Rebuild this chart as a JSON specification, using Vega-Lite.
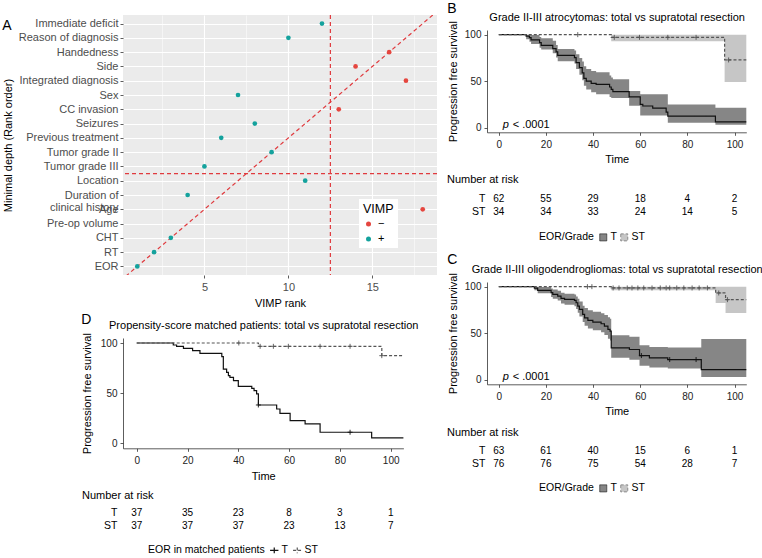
{
  "$schema": "https://vega.github.io/schema/vega-lite/v6.json",
  "background": "white",
  "padding": {"left": 2, "top": 2, "right": 2, "bottom": 0},
  "config": {
    "font": "Liberation Sans",
    "view": {"stroke": null},
    "axis": {"titleFontWeight": "normal", "labelOverlap": false},
    "title": {"fontWeight": "normal", "color": "#000000"},
    "legend": {"titleFontWeight": "normal"}
  },
  "datasets": {
    "vimp": [
      {"var": "Immediate deficit", "depth": 18, "rank": 12, "sign": "+"},
      {"var": "Reason of diagnosis", "depth": 17, "rank": 10, "sign": "+"},
      {"var": "Handedness", "depth": 16, "rank": 16, "sign": "−"},
      {"var": "Side", "depth": 15, "rank": 14, "sign": "−"},
      {"var": "Integrated diagnosis", "depth": 14, "rank": 17, "sign": "−"},
      {"var": "Sex", "depth": 13, "rank": 7, "sign": "+"},
      {"var": "CC invasion", "depth": 12, "rank": 13, "sign": "−"},
      {"var": "Seizures", "depth": 11, "rank": 8, "sign": "+"},
      {"var": "Previous treatment", "depth": 10, "rank": 6, "sign": "+"},
      {"var": "Tumor grade II", "depth": 9, "rank": 9, "sign": "+"},
      {"var": "Tumor grade III", "depth": 8, "rank": 5, "sign": "+"},
      {"var": "Location", "depth": 7, "rank": 11, "sign": "+"},
      {"var": "Duration of clinical history", "depth": 6, "rank": 4, "sign": "+"},
      {"var": "Age", "depth": 5, "rank": 18, "sign": "−"},
      {"var": "Pre-op volume", "depth": 4, "rank": 15, "sign": "−"},
      {"var": "CHT", "depth": 3, "rank": 3, "sign": "+"},
      {"var": "RT", "depth": 2, "rank": 2, "sign": "+"},
      {"var": "EOR", "depth": 1, "rank": 1, "sign": "+"}
    ],
    "kmB": [
      {"g": "T", "t": 0, "S": 100, "lo": 100, "hi": 100},
      {"g": "T", "t": 11.6, "S": 98.4, "lo": 95, "hi": 100},
      {"g": "T", "t": 13, "S": 96.8, "lo": 92.5, "hi": 100},
      {"g": "T", "t": 13.7, "S": 94.3, "lo": 90, "hi": 99.5},
      {"g": "T", "t": 17.3, "S": 91.4, "lo": 86, "hi": 97.5},
      {"g": "T", "t": 18, "S": 88.5, "lo": 84, "hi": 96},
      {"g": "T", "t": 22.9, "S": 85, "lo": 80, "hi": 93.5},
      {"g": "T", "t": 24.3, "S": 81.4, "lo": 75.5, "hi": 89},
      {"g": "T", "t": 25, "S": 77.8, "lo": 71.5, "hi": 84.5},
      {"g": "T", "t": 32.1, "S": 75.3, "lo": 69, "hi": 83},
      {"g": "T", "t": 32.8, "S": 70, "lo": 63, "hi": 79},
      {"g": "T", "t": 34.2, "S": 64.5, "lo": 57, "hi": 75},
      {"g": "T", "t": 35.4, "S": 59, "lo": 51, "hi": 71},
      {"g": "T", "t": 36.1, "S": 53, "lo": 45, "hi": 66},
      {"g": "T", "t": 37.1, "S": 50, "lo": 41, "hi": 63},
      {"g": "T", "t": 39.2, "S": 47.7, "lo": 38, "hi": 61},
      {"g": "T", "t": 41.3, "S": 46.6, "lo": 36, "hi": 59.5},
      {"g": "T", "t": 47, "S": 43.7, "lo": 33, "hi": 56},
      {"g": "T", "t": 47.7, "S": 41.2, "lo": 32, "hi": 54},
      {"g": "T", "t": 48.4, "S": 38.7, "lo": 32, "hi": 52},
      {"g": "T", "t": 55.3, "S": 33, "lo": 23.5, "hi": 39.5},
      {"g": "T", "t": 60, "S": 25, "lo": 13, "hi": 36},
      {"g": "T", "t": 61.1, "S": 23.3, "lo": 13, "hi": 36},
      {"g": "T", "t": 65.3, "S": 21, "lo": 13, "hi": 36},
      {"g": "T", "t": 71, "S": 16.8, "lo": 13, "hi": 36},
      {"g": "T", "t": 71.7, "S": 12.5, "lo": 5.4, "hi": 25},
      {"g": "T", "t": 91.9, "S": 6.3, "lo": 3, "hi": 21.5},
      {"g": "T", "t": 105, "S": 6.3, "lo": 3, "hi": 21.5},
      {"g": "ST", "t": 0, "S": 100, "lo": 100, "hi": 100},
      {"g": "ST", "t": 47.7, "S": 97.1, "lo": 93, "hi": 100},
      {"g": "ST", "t": 95.8, "S": 72.8, "lo": 49, "hi": 100},
      {"g": "ST", "t": 105, "S": 72.8, "lo": 49, "hi": 100}
    ],
    "cenB": [
      {"g": "ST", "t": 33.5, "S": 100},
      {"g": "ST", "t": 49, "S": 97.1},
      {"g": "ST", "t": 59.7, "S": 97.1},
      {"g": "ST", "t": 71.7, "S": 97.1},
      {"g": "ST", "t": 83.7, "S": 97.1},
      {"g": "ST", "t": 97.5, "S": 72.8}
    ],
    "riskB": [
      {"g": "T", "t": 0, "n": 62}, {"g": "T", "t": 20, "n": 55}, {"g": "T", "t": 40, "n": 29},
      {"g": "T", "t": 60, "n": 18}, {"g": "T", "t": 80, "n": 4}, {"g": "T", "t": 100, "n": 2},
      {"g": "ST", "t": 0, "n": 34}, {"g": "ST", "t": 20, "n": 34}, {"g": "ST", "t": 40, "n": 33},
      {"g": "ST", "t": 60, "n": 24}, {"g": "ST", "t": 80, "n": 14}, {"g": "ST", "t": 100, "n": 5}
    ],
    "kmC": [
      {"g": "T", "t": 0, "S": 100, "lo": 100, "hi": 100},
      {"g": "T", "t": 15.1, "S": 98.5, "lo": 96, "hi": 100},
      {"g": "T", "t": 16.5, "S": 96, "lo": 93, "hi": 99.5},
      {"g": "T", "t": 22.2, "S": 93.5, "lo": 89, "hi": 98},
      {"g": "T", "t": 22.9, "S": 91.7, "lo": 87, "hi": 97},
      {"g": "T", "t": 25, "S": 89.9, "lo": 85, "hi": 95.5},
      {"g": "T", "t": 26.4, "S": 87.4, "lo": 82, "hi": 93.5},
      {"g": "T", "t": 27.9, "S": 86.3, "lo": 80.5, "hi": 92.5},
      {"g": "T", "t": 32.1, "S": 85.3, "lo": 79, "hi": 91.5},
      {"g": "T", "t": 32.8, "S": 82.7, "lo": 76, "hi": 89.5},
      {"g": "T", "t": 33.5, "S": 79.1, "lo": 72, "hi": 87},
      {"g": "T", "t": 34.2, "S": 75.5, "lo": 68, "hi": 84},
      {"g": "T", "t": 35.6, "S": 70.1, "lo": 62, "hi": 79.5},
      {"g": "T", "t": 36.4, "S": 66.5, "lo": 58, "hi": 77},
      {"g": "T", "t": 37.8, "S": 63.7, "lo": 55, "hi": 74.5},
      {"g": "T", "t": 39.9, "S": 61.9, "lo": 53, "hi": 73},
      {"g": "T", "t": 43.4, "S": 60.1, "lo": 51, "hi": 71.5},
      {"g": "T", "t": 44.8, "S": 57.6, "lo": 48, "hi": 69.5},
      {"g": "T", "t": 46.3, "S": 54, "lo": 44, "hi": 67},
      {"g": "T", "t": 47.2, "S": 52.2, "lo": 42, "hi": 65.5},
      {"g": "T", "t": 47.7, "S": 34.2, "lo": 23.5, "hi": 47.8},
      {"g": "T", "t": 55.4, "S": 32.4, "lo": 21.5, "hi": 46},
      {"g": "T", "t": 59.7, "S": 25.9, "lo": 15, "hi": 37},
      {"g": "T", "t": 63.9, "S": 23.4, "lo": 13, "hi": 35},
      {"g": "T", "t": 71.7, "S": 21.6, "lo": 12, "hi": 34.5},
      {"g": "T", "t": 85.9, "S": 10.8, "lo": 2.9, "hi": 43.7},
      {"g": "T", "t": 105, "S": 10.8, "lo": 2.9, "hi": 43.7},
      {"g": "ST", "t": 0, "S": 100, "lo": 100, "hi": 100},
      {"g": "ST", "t": 47.7, "S": 98.6, "lo": 96, "hi": 100},
      {"g": "ST", "t": 92, "S": 93.2, "lo": 82.4, "hi": 100},
      {"g": "ST", "t": 96.2, "S": 86, "lo": 71.7, "hi": 100},
      {"g": "ST", "t": 105, "S": 86, "lo": 71.7, "hi": 100}
    ],
    "cenC": [
      {"g": "ST", "t": 37.6, "S": 100}, {"g": "ST", "t": 39.5, "S": 100},
      {"g": "ST", "t": 48.5, "S": 98.6}, {"g": "ST", "t": 51, "S": 98.6}, {"g": "ST", "t": 54.5, "S": 98.6},
      {"g": "ST", "t": 56.5, "S": 98.6}, {"g": "ST", "t": 59, "S": 98.6}, {"g": "ST", "t": 61.5, "S": 98.6},
      {"g": "ST", "t": 65, "S": 98.6}, {"g": "ST", "t": 68.5, "S": 98.6}, {"g": "ST", "t": 71, "S": 98.6},
      {"g": "ST", "t": 72.5, "S": 98.6}, {"g": "ST", "t": 75.5, "S": 98.6}, {"g": "ST", "t": 78.5, "S": 98.6},
      {"g": "ST", "t": 82, "S": 98.6}, {"g": "ST", "t": 85, "S": 98.6}, {"g": "ST", "t": 88.5, "S": 98.6},
      {"g": "ST", "t": 93.3, "S": 93.2}, {"g": "ST", "t": 97, "S": 86},
      {"g": "T", "t": 60.5, "S": 25.9}, {"g": "T", "t": 72.5, "S": 21.6}, {"g": "T", "t": 83.7, "S": 21.6}
    ],
    "riskC": [
      {"g": "T", "t": 0, "n": 63}, {"g": "T", "t": 20, "n": 61}, {"g": "T", "t": 40, "n": 40},
      {"g": "T", "t": 60, "n": 15}, {"g": "T", "t": 80, "n": 6}, {"g": "T", "t": 100, "n": 1},
      {"g": "ST", "t": 0, "n": 76}, {"g": "ST", "t": 20, "n": 76}, {"g": "ST", "t": 40, "n": 75},
      {"g": "ST", "t": 60, "n": 54}, {"g": "ST", "t": 80, "n": 28}, {"g": "ST", "t": 100, "n": 7}
    ],
    "kmD": [
      {"g": "T", "t": 0, "S": 100}, {"g": "T", "t": 14.4, "S": 98}, {"g": "T", "t": 15.7, "S": 96.7},
      {"g": "T", "t": 18.4, "S": 94.7}, {"g": "T", "t": 22, "S": 92.4}, {"g": "T", "t": 24.9, "S": 89.7},
      {"g": "T", "t": 33.5, "S": 86.4}, {"g": "T", "t": 34.1, "S": 74}, {"g": "T", "t": 35.4, "S": 70.8},
      {"g": "T", "t": 36.1, "S": 67.4}, {"g": "T", "t": 36.7, "S": 65.8}, {"g": "T", "t": 38.1, "S": 62.5},
      {"g": "T", "t": 40, "S": 56.8}, {"g": "T", "t": 45.3, "S": 54.8}, {"g": "T", "t": 46.2, "S": 52.5},
      {"g": "T", "t": 47.2, "S": 49.2}, {"g": "T", "t": 47.9, "S": 38.2}, {"g": "T", "t": 55.1, "S": 34.2},
      {"g": "T", "t": 56.4, "S": 29.9}, {"g": "T", "t": 60.4, "S": 22.6}, {"g": "T", "t": 66.3, "S": 19.3},
      {"g": "T", "t": 72.2, "S": 11}, {"g": "T", "t": 92.5, "S": 5.3}, {"g": "T", "t": 105, "S": 5.3},
      {"g": "ST", "t": 0, "S": 100}, {"g": "ST", "t": 47.9, "S": 96.7}, {"g": "ST", "t": 96.5, "S": 87.4},
      {"g": "ST", "t": 105, "S": 87.4}
    ],
    "cenD": [
      {"g": "T", "t": 47.9, "S": 38.2}, {"g": "T", "t": 84, "S": 11},
      {"g": "ST", "t": 40.2, "S": 100}, {"g": "ST", "t": 48.6, "S": 96.7}, {"g": "ST", "t": 53.8, "S": 96.7},
      {"g": "ST", "t": 59.7, "S": 96.7}, {"g": "ST", "t": 72.2, "S": 96.7}, {"g": "ST", "t": 84, "S": 96.7},
      {"g": "ST", "t": 96.5, "S": 87.4}
    ],
    "riskD": [
      {"g": "T", "t": 0, "n": 37}, {"g": "T", "t": 20, "n": 35}, {"g": "T", "t": 40, "n": 23},
      {"g": "T", "t": 60, "n": 8}, {"g": "T", "t": 80, "n": 3}, {"g": "T", "t": 100, "n": 1},
      {"g": "ST", "t": 0, "n": 37}, {"g": "ST", "t": 20, "n": 37}, {"g": "ST", "t": 40, "n": 37},
      {"g": "ST", "t": 60, "n": 23}, {"g": "ST", "t": 80, "n": 13}, {"g": "ST", "t": 100, "n": 7}
    ]
  },
  "spacing": 9,
  "resolve": {"scale": {"x": "independent", "y": "independent", "color": "independent", "fill": "independent", "stroke": "independent", "strokeDash": "independent"}},
  "hconcat": [
    {
      "bounds": "flush",
      "spacing": 63,
      "resolve": {"scale": {"x": "independent", "y": "independent", "color": "independent", "fill": "independent", "stroke": "independent", "strokeDash": "independent"}},
      "vconcat": [
        {
          "width": 314,
          "height": 260,
          "view": {"fill": "#EBEBEB", "stroke": null},
          "title": {"text": "A", "anchor": "start", "frame": "bounds", "fontSize": 14, "dy": 19, "offset": 0},
          "resolve": {"scale": {"y": "independent"}, "axis": {"y": "independent"}},
          "layer": [
            {
              "data": {"values": [{"v": 12.5}]},
              "mark": {"type": "rule", "color": "#E03A3E", "strokeDash": [4, 3], "strokeWidth": 1.2},
              "encoding": {
                "x": {"field": "v", "type": "quantitative", "title": "VIMP rank", "scale": {"domain": [0.15, 18.85], "nice": false, "zero": false}}
              }
            },
            {
              "data": {"values": [{"v": 7.5}]},
              "mark": {"type": "rule", "color": "#E03A3E", "strokeDash": [4, 3], "strokeWidth": 1.2},
              "encoding": {
                "y": {"field": "v", "type": "quantitative", "axis": null, "scale": {"domain": [0.4, 18.6], "nice": false, "zero": false}}
              }
            },
            {
              "data": {"values": [{"a": 0, "b": 0}, {"a": 19, "b": 19}]},
              "mark": {"type": "line", "clip": true, "color": "#E03A3E", "strokeDash": [4, 3], "strokeWidth": 1.2},
              "encoding": {
                "x": {"field": "a", "type": "quantitative", "title": "VIMP rank", "scale": {"domain": [0.15, 18.85], "nice": false, "zero": false}},
                "y": {"field": "b", "type": "quantitative", "axis": null, "scale": {"domain": [0.4, 18.6], "nice": false, "zero": false}}
              }
            },
            {
              "data": {"name": "vimp"},
              "mark": {"type": "point", "filled": true, "size": 22, "opacity": 1},
              "encoding": {
                "x": {
                  "field": "rank", "type": "quantitative", "title": "VIMP rank",
                  "scale": {"domain": [0.15, 18.85], "nice": false, "zero": false},
                  "axis": {
                    "values": [2.5, 5, 7.5, 10, 12.5, 15, 17.5],
                    "labelExpr": "datum.value % 5 === 0 ? format(datum.value, 'd') : ''",
                    "grid": true, "gridColor": "#FFFFFF",
                    "gridWidth": {"condition": {"test": "datum.value % 5 === 0", "value": 1.1}, "value": 0.5},
                    "domain": false, "tickSize": 3, "tickColor": "#333333", "tickWidth": 0.8,
                    "tickOpacity": {"condition": {"test": "datum.value % 5 === 0", "value": 1}, "value": 0},
                    "labelColor": "#4D4D4D", "labelFontSize": 11, "labelPadding": 3, "labelFlush": false, "labelOverlap": false,
                    "titleFontSize": 11, "titleColor": "#000000", "titlePadding": 5
                  }
                },
                "y": {
                  "field": "var", "type": "nominal", "title": "Minimal depth (Rank order)",
                  "sort": ["Immediate deficit", "Reason of diagnosis", "Handedness", "Side", "Integrated diagnosis", "Sex", "CC invasion", "Seizures", "Previous treatment", "Tumor grade II", "Tumor grade III", "Location", "Duration of clinical history", "Age", "Pre-op volume", "CHT", "RT", "EOR"],
                  "scale": {"type": "point", "padding": 0.6},
                  "axis": {
                    "labelExpr": "datum.label === 'Duration of clinical history' ? ['Duration of', 'clinical history'] : datum.label",
                    "grid": true, "gridColor": "#FFFFFF", "gridWidth": 1.1,
                    "domain": false, "tickSize": 3, "tickColor": "#333333", "tickWidth": 0.8,
                    "labelColor": "#4D4D4D", "labelFontSize": 11, "labelPadding": 2, "labelLineHeight": 12.5,
                    "labelOverlap": false, "labelFlush": false, "labelBound": false, "labelLimit": 200,
                    "titleFontSize": 11, "titleColor": "#000000", "titlePadding": 5
                  }
                },
                "color": {
                  "field": "sign", "type": "nominal",
                  "scale": {"domain": ["−", "+"], "range": ["#E5463F", "#14A29D"]},
                  "legend": {
                    "title": "VIMP", "orient": "none", "legendX": 236, "legendY": 184,
                    "fillColor": "#FFFFFF", "padding": 4, "titleFontSize": 12.5, "titleColor": "#000000",
                    "labelFontSize": 11, "labelColor": "#000000", "symbolSize": 25, "symbolType": "circle",
                    "rowPadding": 3, "titlePadding": 3
                  }
                }
              }
            }
          ]
        },
        {
          "width": 280.4,
          "height": 110.3,
          "title": {"text": "D", "anchor": "start", "frame": "bounds", "fontSize": 14, "offset": -8},
          "resolve": {"axis": {"x": "independent"}},
          "layer": [
            {
              "data": {"name": "kmD"},
              "mark": {"type": "line", "interpolate": "step-after", "strokeWidth": 1.2},
              "encoding": {
                "x": {
                  "field": "t", "type": "quantitative",
                  "scale": {"domain": [-5.4, 105], "nice": false, "zero": false},
                  "axis": {"title": "Time", "values": [0, 20, 40, 60, 80, 100], "grid": false, "domainColor": "#333333", "domainWidth": 0.8, "tickColor": "#333333", "tickSize": 3, "tickWidth": 0.8, "labelFontSize": 10, "labelColor": "#222222", "labelPadding": 4, "labelFlush": false, "titleFontSize": 11, "titleColor": "#000000", "titlePadding": 5}
                },
                "y": {
                  "field": "S", "type": "quantitative", "title": "Progression free survival",
                  "scale": {"domain": [-5, 105], "nice": false, "zero": false},
                  "axis": {"values": [0, 25, 50, 75, 100], "grid": false, "domainColor": "#333333", "domainWidth": 0.8, "tickColor": "#333333", "tickSize": 3, "tickWidth": 0.8, "labelFontSize": 10, "labelColor": "#222222", "labelPadding": 3, "labelFlush": false, "titleFontSize": 11, "titleColor": "#000000", "titlePadding": 8}
                },
                "stroke": {
                  "field": "g", "type": "nominal",
                  "scale": {"domain": ["T", "ST"], "range": ["#111111", "#555555"]},
                  "legend": {
                    "title": "EOR in matched patients", "orient": "none", "legendX": 25, "legendY": 207,
                    "direction": "horizontal", "titleOrient": "left", "titleFontSize": 10.5, "titleColor": "#000000",
                    "labelFontSize": 10.5, "labelColor": "#000000", "symbolType": "M-1,0H1M0,-0.7V0.7",
                    "symbolSize": 70, "symbolStrokeWidth": 1.2, "columnPadding": 2, "labelOffset": 2, "titlePadding": 4
                  }
                },
                "strokeDash": {
                  "field": "g", "type": "nominal",
                  "scale": {"domain": ["T", "ST"], "range": [[1, 0], [3, 2]]},
                  "legend": null
                }
              }
            },
            {
              "data": {"name": "cenD"},
              "mark": {"type": "point", "shape": "M-1,0H1M0,-1V1", "size": 25, "filled": false, "strokeWidth": 0.9, "opacity": 1},
              "encoding": {
                "x": {
                  "field": "t", "type": "quantitative",
                  "axis": {"orient": "top", "title": "Propensity-score matched patients: total vs supratotal resection", "labels": false, "ticks": false, "domain": false, "grid": false, "titleY": -10, "titleBaseline": "alphabetic", "titleFontSize": 11, "titleColor": "#000000"}
                },
                "y": {"field": "S", "type": "quantitative", "title": "Progression free survival"},
                "stroke": {"field": "g", "type": "nominal", "scale": {"domain": ["T", "ST"], "range": ["#111111", "#555555"]}, "legend": null}
              }
            }
          ]
        },
        {
          "width": 280.4,
          "height": 26,
          "data": {"name": "riskD"},
          "title": {"text": "Number at risk", "anchor": "start", "frame": "group", "dx": -41, "fontSize": 11, "offset": 7},
          "mark": {"type": "text", "fontSize": 10, "color": "#000000", "dy": -5.5},
          "encoding": {
            "x": {"field": "t", "type": "quantitative", "scale": {"domain": [-5.4, 105], "nice": false, "zero": false}, "axis": null},
            "y": {
              "field": "g", "type": "nominal", "sort": ["T", "ST"],
              "scale": {"type": "band", "domain": ["T", "ST"], "paddingInner": 0, "paddingOuter": 0},
              "axis": {"title": null, "domain": false, "ticks": false, "labelPadding": 6, "labelFontSize": 10.5, "labelColor": "#000000", "labelOffset": -5.5}
            },
            "text": {"field": "n", "type": "quantitative"}
          }
        }
      ]
    },
    {
      "bounds": "flush",
      "spacing": 14,
      "resolve": {"scale": {"x": "independent", "y": "independent", "color": "independent", "fill": "independent", "stroke": "independent", "strokeDash": "independent"}},
      "vconcat": [
        {
          "width": 259.3,
          "height": 1,
          "data": {"values": []},
          "mark": {"type": "point", "opacity": 0}
        },
        {
          "bounds": "flush",
          "spacing": 59,
          "resolve": {"scale": {"x": "independent", "y": "independent", "color": "independent", "fill": "independent", "stroke": "independent", "strokeDash": "independent"}},
          "vconcat": [
            {
              "width": 259.3,
              "height": 102.3,
              "title": {"text": "B", "anchor": "start", "frame": "bounds", "fontSize": 14, "offset": -5},
              "resolve": {"axis": {"x": "independent"}},
              "layer": [
                {
                  "data": {"name": "kmB"},
                  "mark": {"type": "area", "interpolate": "step-after"},
                  "encoding": {
                    "x": {
                      "field": "t", "type": "quantitative",
                      "scale": {"domain": [-5, 105], "nice": false, "zero": false},
                      "axis": {"title": "Time", "values": [0, 20, 40, 60, 80, 100], "grid": false, "domainColor": "#333333", "domainWidth": 0.8, "tickColor": "#333333", "tickSize": 3, "tickWidth": 0.8, "labelFontSize": 10, "labelColor": "#222222", "labelPadding": 4, "labelFlush": false, "titleFontSize": 11, "titleColor": "#000000", "titlePadding": 4}
                    },
                    "y": {
                      "field": "lo", "type": "quantitative", "title": "Progression free survival",
                      "scale": {"domain": [-5, 105], "nice": false, "zero": false},
                      "axis": {"values": [0, 25, 50, 75, 100], "grid": false, "domainColor": "#333333", "domainWidth": 0.8, "tickColor": "#333333", "tickSize": 3, "tickWidth": 0.8, "labelFontSize": 10, "labelColor": "#222222", "labelPadding": 3, "labelFlush": false, "titleFontSize": 11, "titleColor": "#000000", "titlePadding": 6}
                    },
                    "y2": {"field": "hi"},
                    "fill": {
                      "field": "g", "type": "nominal",
                      "scale": {"domain": ["T", "ST"], "range": ["#868686", "#C6C6C6"]},
                      "legend": {
                        "title": "EOR/Grade", "orient": "none", "legendX": 52, "legendY": 202,
                        "direction": "horizontal", "titleOrient": "left", "titleFontSize": 10.5, "titleColor": "#000000",
                        "labelFontSize": 10.5, "labelColor": "#000000", "symbolType": "square", "symbolSize": 50,
                        "symbolStrokeColor": "#222222", "symbolStrokeWidth": 0.6, "columnPadding": 2, "labelOffset": 2, "titlePadding": 4
                      }
                    }
                  }
                },
                {
                  "data": {"name": "kmB"},
                  "mark": {"type": "line", "interpolate": "step-after", "strokeWidth": 1.2},
                  "encoding": {
                    "x": {"field": "t", "type": "quantitative", "axis": null},
                    "y": {"field": "S", "type": "quantitative", "title": "Progression free survival"},
                    "stroke": {"field": "g", "type": "nominal", "scale": {"domain": ["T", "ST"], "range": ["#111111", "#555555"]}, "legend": null},
                    "strokeDash": {"field": "g", "type": "nominal", "scale": {"domain": ["T", "ST"], "range": [[1, 0], [3, 2]]}, "legend": null}
                  }
                },
                {
                  "data": {"name": "cenB"},
                  "mark": {"type": "point", "shape": "M-1,0H1M0,-1V1", "size": 25, "filled": false, "strokeWidth": 0.9, "opacity": 1},
                  "encoding": {
                    "x": {
                      "field": "t", "type": "quantitative",
                      "axis": {"orient": "top", "title": "Grade II-III atrocytomas: total vs supratotal resection", "labels": false, "ticks": false, "domain": false, "grid": false, "titleY": -10, "titleBaseline": "alphabetic", "titleFontSize": 11, "titleColor": "#000000"}
                    },
                    "y": {"field": "S", "type": "quantitative", "title": "Progression free survival"},
                    "stroke": {"field": "g", "type": "nominal", "scale": {"domain": ["T", "ST"], "range": ["#111111", "#555555"]}, "legend": null}
                  }
                },
                {
                  "data": {"values": [{"t": 1.7, "S": 0, "lab": "p"}]},
                  "mark": {"type": "text", "align": "left", "baseline": "alphabetic", "fontStyle": "italic", "fontSize": 11, "color": "#000000"},
                  "encoding": {
                    "x": {"field": "t", "type": "quantitative", "axis": null},
                    "y": {"field": "S", "type": "quantitative", "title": "Progression free survival"},
                    "text": {"field": "lab"}
                  }
                },
                {
                  "data": {"values": [{"t": 5.9, "S": 0, "lab": "< .0001"}]},
                  "mark": {"type": "text", "align": "left", "baseline": "alphabetic", "fontSize": 11, "color": "#000000"},
                  "encoding": {
                    "x": {"field": "t", "type": "quantitative", "axis": null},
                    "y": {"field": "S", "type": "quantitative", "title": "Progression free survival"},
                    "text": {"field": "lab"}
                  }
                }
              ]
            },
            {
              "width": 259.3,
              "height": 31,
              "data": {"name": "riskB"},
              "title": {"text": "Number at risk", "anchor": "start", "frame": "group", "dx": -40, "fontSize": 11, "offset": 7.5},
              "mark": {"type": "text", "fontSize": 10, "color": "#000000"},
              "encoding": {
                "x": {"field": "t", "type": "quantitative", "scale": {"domain": [-5, 105], "nice": false, "zero": false}, "axis": null},
                "y": {
                  "field": "g", "type": "nominal", "sort": ["T", "ST"],
                  "scale": {"type": "band", "domain": ["T", "ST"], "paddingInner": 0, "paddingOuter": 0.1923, "align": 0},
                  "axis": {"title": null, "domain": false, "ticks": false, "labelPadding": 2, "labelFontSize": 10.5, "labelColor": "#000000"}
                },
                "text": {"field": "n", "type": "quantitative"}
              }
            },
            {
              "width": 259.3,
              "height": 102.3,
              "title": {"text": "C", "anchor": "start", "frame": "bounds", "fontSize": 14, "offset": -4},
              "resolve": {"axis": {"x": "independent"}},
              "layer": [
                {
                  "data": {"name": "kmC"},
                  "mark": {"type": "area", "interpolate": "step-after"},
                  "encoding": {
                    "x": {
                      "field": "t", "type": "quantitative",
                      "scale": {"domain": [-5, 105], "nice": false, "zero": false},
                      "axis": {"title": "Time", "values": [0, 20, 40, 60, 80, 100], "grid": false, "domainColor": "#333333", "domainWidth": 0.8, "tickColor": "#333333", "tickSize": 3, "tickWidth": 0.8, "labelFontSize": 10, "labelColor": "#222222", "labelPadding": 4, "labelFlush": false, "titleFontSize": 11, "titleColor": "#000000", "titlePadding": 4}
                    },
                    "y": {
                      "field": "lo", "type": "quantitative", "title": "Progression free survival",
                      "scale": {"domain": [-5, 105], "nice": false, "zero": false},
                      "axis": {"values": [0, 25, 50, 75, 100], "grid": false, "domainColor": "#333333", "domainWidth": 0.8, "tickColor": "#333333", "tickSize": 3, "tickWidth": 0.8, "labelFontSize": 10, "labelColor": "#222222", "labelPadding": 3, "labelFlush": false, "titleFontSize": 11, "titleColor": "#000000", "titlePadding": 6}
                    },
                    "y2": {"field": "hi"},
                    "fill": {
                      "field": "g", "type": "nominal",
                      "scale": {"domain": ["T", "ST"], "range": ["#868686", "#C6C6C6"]},
                      "legend": {
                        "title": "EOR/Grade", "orient": "none", "legendX": 52, "legendY": 201,
                        "direction": "horizontal", "titleOrient": "left", "titleFontSize": 10.5, "titleColor": "#000000",
                        "labelFontSize": 10.5, "labelColor": "#000000", "symbolType": "square", "symbolSize": 50,
                        "symbolStrokeColor": "#222222", "symbolStrokeWidth": 0.6, "columnPadding": 2, "labelOffset": 2, "titlePadding": 4
                      }
                    }
                  }
                },
                {
                  "data": {"name": "kmC"},
                  "mark": {"type": "line", "interpolate": "step-after", "strokeWidth": 1.2},
                  "encoding": {
                    "x": {"field": "t", "type": "quantitative", "axis": null},
                    "y": {"field": "S", "type": "quantitative", "title": "Progression free survival"},
                    "stroke": {"field": "g", "type": "nominal", "scale": {"domain": ["T", "ST"], "range": ["#111111", "#555555"]}, "legend": null},
                    "strokeDash": {"field": "g", "type": "nominal", "scale": {"domain": ["T", "ST"], "range": [[1, 0], [3, 2]]}, "legend": null}
                  }
                },
                {
                  "data": {"name": "cenC"},
                  "mark": {"type": "point", "shape": "M-1,0H1M0,-1V1", "size": 25, "filled": false, "strokeWidth": 0.9, "opacity": 1},
                  "encoding": {
                    "x": {
                      "field": "t", "type": "quantitative",
                      "axis": {"orient": "top", "title": "Grade II-III oligodendrogliomas: total vs supratotal resection", "labels": false, "ticks": false, "domain": false, "grid": false, "titleY": -10, "titleBaseline": "alphabetic", "titleFontSize": 11, "titleColor": "#000000"}
                    },
                    "y": {"field": "S", "type": "quantitative", "title": "Progression free survival"},
                    "stroke": {"field": "g", "type": "nominal", "scale": {"domain": ["T", "ST"], "range": ["#111111", "#555555"]}, "legend": null}
                  }
                },
                {
                  "data": {"values": [{"t": 1.7, "S": 0, "lab": "p"}]},
                  "mark": {"type": "text", "align": "left", "baseline": "alphabetic", "fontStyle": "italic", "fontSize": 11, "color": "#000000"},
                  "encoding": {
                    "x": {"field": "t", "type": "quantitative", "axis": null},
                    "y": {"field": "S", "type": "quantitative", "title": "Progression free survival"},
                    "text": {"field": "lab"}
                  }
                },
                {
                  "data": {"values": [{"t": 5.9, "S": 0, "lab": "< .0001"}]},
                  "mark": {"type": "text", "align": "left", "baseline": "alphabetic", "fontSize": 11, "color": "#000000"},
                  "encoding": {
                    "x": {"field": "t", "type": "quantitative", "axis": null},
                    "y": {"field": "S", "type": "quantitative", "title": "Progression free survival"},
                    "text": {"field": "lab"}
                  }
                }
              ]
            },
            {
              "width": 259.3,
              "height": 31,
              "data": {"name": "riskC"},
              "title": {"text": "Number at risk", "anchor": "start", "frame": "group", "dx": -40, "fontSize": 11, "offset": 6.5},
              "mark": {"type": "text", "fontSize": 10, "color": "#000000"},
              "encoding": {
                "x": {"field": "t", "type": "quantitative", "scale": {"domain": [-5, 105], "nice": false, "zero": false}, "axis": null},
                "y": {
                  "field": "g", "type": "nominal", "sort": ["T", "ST"],
                  "scale": {"type": "band", "domain": ["T", "ST"], "paddingInner": 0, "paddingOuter": 0.1923, "align": 0},
                  "axis": {"title": null, "domain": false, "ticks": false, "labelPadding": 2, "labelFontSize": 10.5, "labelColor": "#000000"}
                },
                "text": {"field": "n", "type": "quantitative"}
              }
            }
          ]
        }
      ]
    }
  ]
}
